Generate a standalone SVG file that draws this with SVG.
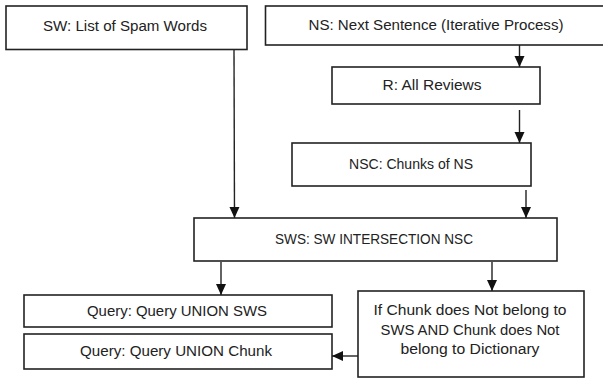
<svg xmlns="http://www.w3.org/2000/svg" width="603" height="381" viewBox="0 0 603 381">
<defs>
<marker id="ah" markerUnits="userSpaceOnUse" markerWidth="11" markerHeight="11" viewBox="0 0 11 11" refX="11" refY="5.5" orient="auto">
<path d="M0,0.5 L11,5.5 L0,10.5 Z" fill="#111"/>
</marker>
<style>
.box{fill:#fff;stroke:#222;stroke-width:1.6}
.t{font-family:"Liberation Sans",Arial,sans-serif;font-size:14px;fill:#222;text-anchor:middle}
.c{stroke:#222;stroke-width:1.4;fill:none}
</style>
</defs>
<rect width="603" height="381" fill="#fff"/>
<g id="sw"><rect class="box" x="6" y="6" width="241" height="43.5"/><text class="t" x="125" y="31" textLength="164" lengthAdjust="spacingAndGlyphs">SW: List of Spam Words</text></g>
<g id="ns"><rect class="box" x="265.5" y="6" width="345" height="39"/><text class="t" x="436" y="30" textLength="255" lengthAdjust="spacingAndGlyphs">NS: Next Sentence (Iterative Process)</text></g>
<g id="r"><rect class="box" x="332" y="67" width="208" height="37"/><text class="t" x="432" y="90" textLength="99" lengthAdjust="spacingAndGlyphs">R: All Reviews</text></g>
<g id="nsc"><rect class="box" x="292" y="143" width="239" height="43"/><text class="t" x="411" y="169" textLength="124" lengthAdjust="spacingAndGlyphs">NSC: Chunks of NS</text></g>
<g id="sws"><rect class="box" x="194" y="218" width="363" height="43"/><text class="t" x="374" y="244" textLength="198" lengthAdjust="spacingAndGlyphs">SWS: SW INTERSECTION NSC</text></g>
<g id="q1"><rect class="box" x="24" y="295" width="308" height="32"/><text class="t" x="177" y="316" textLength="180" lengthAdjust="spacingAndGlyphs">Query: Query UNION SWS</text></g>
<g id="q2"><rect class="box" x="24" y="334" width="308" height="35"/><text class="t" x="176" y="356" textLength="192" lengthAdjust="spacingAndGlyphs">Query: Query UNION Chunk</text></g>
<g id="cond"><rect class="box" x="358" y="291" width="226" height="86"/>
<text class="t" x="470" y="315" textLength="193" lengthAdjust="spacingAndGlyphs">If Chunk does Not belong to</text>
<text class="t" x="470" y="335" textLength="179" lengthAdjust="spacingAndGlyphs">SWS AND Chunk does Not</text>
<text class="t" x="470" y="354" textLength="139" lengthAdjust="spacingAndGlyphs">belong to Dictionary</text></g>
<g id="connectors">
<line class="c" x1="519.5" y1="45" x2="519.5" y2="67" marker-end="url(#ah)"/>
<line class="c" x1="519.5" y1="110" x2="519.5" y2="143" marker-end="url(#ah)"/>
<line class="c" x1="526" y1="190" x2="526" y2="218" marker-end="url(#ah)"/>
<line class="c" x1="234" y1="50" x2="234.5" y2="218" marker-end="url(#ah)"/>
<line class="c" x1="221" y1="262" x2="221" y2="295" marker-end="url(#ah)"/>
<line class="c" x1="492" y1="262" x2="492" y2="291" marker-end="url(#ah)"/>
<line class="c" x1="358" y1="356" x2="332" y2="356" marker-end="url(#ah)"/>
</g>
</svg>
